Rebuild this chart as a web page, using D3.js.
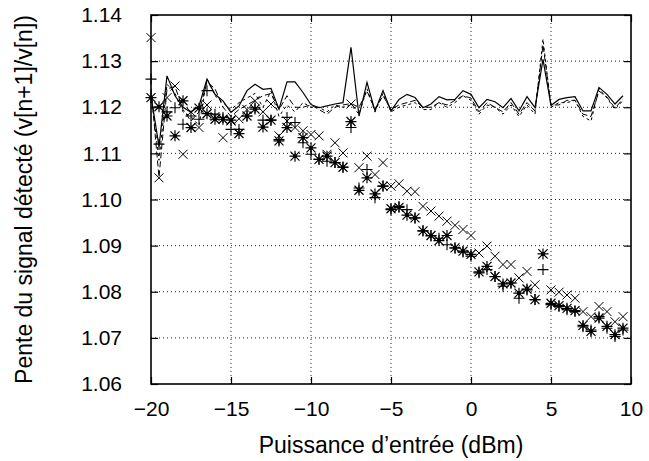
<!DOCTYPE html>
<html><head><meta charset="utf-8">
<script src="https://cdn.jsdelivr.net/npm/d3@7"></script>
<style>body{margin:0;background:#fff}svg{display:block}text{font-family:"Liberation Sans",Arial,sans-serif;fill:#000}</style>
</head><body><svg id="c" width="649" height="461"></svg>
<script>
const xVals = [-20,-19.5,-19,-18.5,-18,-17.5,-17,-16.5,-16,-15.5,-15,-14.5,-14,-13.5,-13,-12.5,-12,-11.5,-11,-10.5,-10,-9.5,-9,-8.5,-8,-7.5,-7,-6.5,-6,-5.5,-5,-4.5,-4,-3.5,-3,-2.5,-2,-1.5,-1,-0.5,0,0.5,1,1.5,2,2.5,3,3.5,4,4.5,5,5.5,6,6.5,7,7.5,8,8.5,9,9.5];
const lineSolid = [1.1225,1.1115,1.1268,1.1225,1.1200,1.1189,1.1203,1.1261,1.1228,1.1214,1.1189,1.1203,1.1236,1.1250,1.1239,1.1241,1.1196,1.1255,1.1255,1.1232,1.1206,1.1199,1.1203,1.1207,1.1210,1.1330,1.1181,1.1254,1.1192,1.1236,1.1192,1.1217,1.1228,1.1221,1.1199,1.1207,1.1223,1.1216,1.1217,1.1236,1.1228,1.1199,1.1217,1.1212,1.1199,1.1219,1.1192,1.1223,1.1199,1.1304,1.1204,1.1217,1.1221,1.1223,1.1192,1.1192,1.1243,1.1228,1.1207,1.1225];
const lineDashed = [1.1240,1.1048,1.1240,1.1245,1.1195,1.1170,1.1190,1.1255,1.1240,1.1200,1.1180,1.1195,1.1205,1.1215,1.1225,1.1230,1.1195,1.1225,1.1200,1.1200,1.1205,1.1195,1.1185,1.1200,1.1205,1.1208,1.1200,1.1235,1.1195,1.1225,1.1195,1.1205,1.1210,1.1215,1.1200,1.1200,1.1210,1.1205,1.1215,1.1225,1.1220,1.1190,1.1210,1.1200,1.1190,1.1210,1.1185,1.1210,1.1192,1.1335,1.1205,1.1205,1.1215,1.1215,1.1185,1.1180,1.1235,1.1222,1.1198,1.1218];
const lineDotted = [1.1230,1.1085,1.1250,1.1230,1.1190,1.1180,1.1160,1.1262,1.1225,1.1210,1.1195,1.1210,1.1220,1.1230,1.1200,1.1235,1.1180,1.1205,1.1190,1.1210,1.1200,1.1200,1.1190,1.1205,1.1200,1.1205,1.1185,1.1240,1.1190,1.1230,1.1190,1.1200,1.1205,1.1210,1.1195,1.1195,1.1210,1.1200,1.1210,1.1225,1.1215,1.1185,1.1205,1.1200,1.1185,1.1205,1.1180,1.1205,1.1185,1.1348,1.1200,1.1210,1.1210,1.1215,1.1180,1.1170,1.1240,1.1220,1.1195,1.1215];
const ptsCross = [1.1351,1.1047,1.1221,1.1246,1.1098,1.1190,1.1156,1.1205,1.1180,1.1134,1.1170,1.1175,1.1195,1.1214,1.1190,1.1207,1.1138,1.1170,1.1156,1.1149,1.1141,1.1138,1.1098,1.1123,1.1101,1.1207,1.1069,1.1094,1.1054,1.1080,1.1029,1.1034,1.1018,1.1017,1.0985,1.0975,1.0964,1.0953,1.0944,1.0935,1.0922,1.0884,1.0899,1.0877,1.0859,1.0859,1.0830,1.0844,1.0815,1.0882,1.0804,1.0799,1.0793,1.0786,1.0757,1.0746,1.0768,1.0757,1.0735,1.0746];
const ptsPlus = [1.1261,1.1120,1.1190,1.1199,1.1163,1.1181,1.1174,1.1236,1.1185,1.1178,1.1152,1.1152,1.1181,1.1199,1.1172,1.1172,1.1130,1.1178,1.1167,1.1123,1.1098,1.1087,1.1083,1.1080,1.1070,1.1156,1.1025,1.1065,1.1004,1.1029,1.0978,1.0985,1.0978,1.0960,1.0932,1.0921,1.0916,1.0902,1.0895,1.0886,1.0877,1.0841,1.0848,1.0833,1.0812,1.0819,1.0786,1.0804,1.0783,1.0848,1.0772,1.0768,1.0761,1.0757,1.0724,1.0717,1.0746,1.0721,1.0703,1.0717];
const ptsStar = [1.1221,1.1201,1.1181,1.1138,1.1214,1.1156,1.1198,1.1186,1.1174,1.1174,1.1172,1.1143,1.1181,1.1196,1.1157,1.1172,1.1127,1.1156,1.1094,1.1134,1.1112,1.1087,1.1094,1.1080,1.1070,1.1169,1.1020,1.1047,1.1012,1.1029,1.0980,1.0983,1.0966,1.0960,1.0932,1.0922,1.0911,1.0922,1.0895,1.0888,1.0881,1.0843,1.0855,1.0833,1.0817,1.0819,1.0797,1.0806,1.0783,1.0882,1.0775,1.0770,1.0764,1.0759,1.0727,1.0714,1.0743,1.0725,1.0707,1.0721];
const xTicks = [-20,-15,-10,-5,0,5,10];
const yTicks = [1.06,1.07,1.08,1.09,1.10,1.11,1.12,1.13,1.14];
const xTitle = "Puissance d\u2019entr\u00e9e (dBm)";
const yTitle = "Pente du signal d\u00e9tect\u00e9 (v[n+1]/v[n])";

const svg = d3.select("#c");
const L = 151, R = 631, T = 15, B = 384;
const x = d3.scaleLinear().domain([-20, 10]).range([L, R]);
const y = d3.scaleLinear().domain([1.06, 1.14]).range([B, T]);

svg.append("rect").attr("width", 649).attr("height", 461).attr("fill", "#fff");

// grid
const g = svg.append("g");
g.selectAll(".gx").data(xTicks.slice(1, -1)).join("line")
  .attr("x1", d => x(d)).attr("x2", d => x(d)).attr("y1", T).attr("y2", B)
  .attr("stroke", "#222").attr("stroke-width", 1).attr("stroke-dasharray", "1,3");
g.selectAll(".gy").data(yTicks.slice(1, -1)).join("line")
  .attr("y1", d => y(d)).attr("y2", d => y(d)).attr("x1", L).attr("x2", R)
  .attr("stroke", "#222").attr("stroke-width", 1).attr("stroke-dasharray", "1,3");

// axes
const fmt = d3.format(".2f");
const minusFmt = d => (d < 0 ? "\u2212" + Math.abs(d) : "" + d);
const axB = svg.append("g").attr("transform", `translate(0,${B})`)
  .call(d3.axisBottom(x).tickValues(xTicks).tickFormat(minusFmt).tickSizeInner(-7).tickSizeOuter(0).tickPadding(17));
const axT = svg.append("g").attr("transform", `translate(0,${T})`)
  .call(d3.axisTop(x).tickValues(xTicks).tickFormat("").tickSizeInner(-7).tickSizeOuter(0));
const axL = svg.append("g").attr("transform", `translate(${L},0)`)
  .call(d3.axisLeft(y).tickValues(yTicks).tickFormat(fmt).tickSizeInner(-7).tickSizeOuter(0).tickPadding(29));
const axR = svg.append("g").attr("transform", `translate(${R},0)`)
  .call(d3.axisRight(y).tickValues(yTicks).tickFormat("").tickSizeInner(-7).tickSizeOuter(0));
[axB, axT, axL, axR].forEach(a => {
  a.select(".domain").remove();
  a.selectAll(".tick line").attr("stroke", "#000").attr("stroke-width", 1.2);
  a.selectAll("text").style("font-size", "21px").attr("fill", "#000");
});
axL.selectAll("text").attr("text-anchor", "end");

svg.append("rect").attr("x", L).attr("y", T).attr("width", R - L).attr("height", B - T)
  .attr("fill", "none").attr("stroke", "#000").attr("stroke-width", 1.6);

// lines
const mk = vals => d3.line().x((d, i) => x(xVals[i])).y(d => y(d))(vals);
const lp = svg.append("g").attr("fill", "none").attr("stroke", "#000");
lp.append("path").attr("d", mk(lineDotted)).attr("stroke-width", 1).attr("stroke-dasharray", "3,3");
lp.append("path").attr("d", mk(lineDashed)).attr("stroke-width", 1).attr("stroke-dasharray", "6,3");
lp.append("path").attr("d", mk(lineSolid)).attr("stroke-width", 1.2);

// markers
const s = 4.5;
const crossPath = `M${-s},${-s}L${s},${s}M${-s},${s}L${s},${-s}`;
const plusPath = `M${-s-1},0L${s+1},0M0,${-s-1}L0,${s+1}`;
const starPath = crossPath + plusPath;
function drawPts(vals, p, w) {
  svg.append("g").selectAll("path").data(vals).join("path")
    .attr("transform", (d, i) => `translate(${x(xVals[i])},${y(d)})`)
    .attr("d", p).attr("fill", "none").attr("stroke", "#000").attr("stroke-width", w);
}
drawPts(ptsCross, crossPath, 1);
drawPts(ptsPlus, plusPath, 1.1);
drawPts(ptsStar, starPath, 1.2);
svg.append("g").selectAll("circle").data(ptsStar).join("circle")
  .attr("cx", (d, i) => x(xVals[i])).attr("cy", d => y(d)).attr("r", 1.8).attr("fill", "#000");

// titles
svg.append("text").attr("x", (L + R) / 2 - 0).attr("y", 453).attr("text-anchor", "middle")
  .style("font-size", "23px").text(xTitle);
svg.append("text").attr("transform", `translate(32,${(T + B) / 2}) rotate(-90)`).attr("text-anchor", "middle")
  .style("font-size", "23px").text(yTitle);
</script></body></html>
